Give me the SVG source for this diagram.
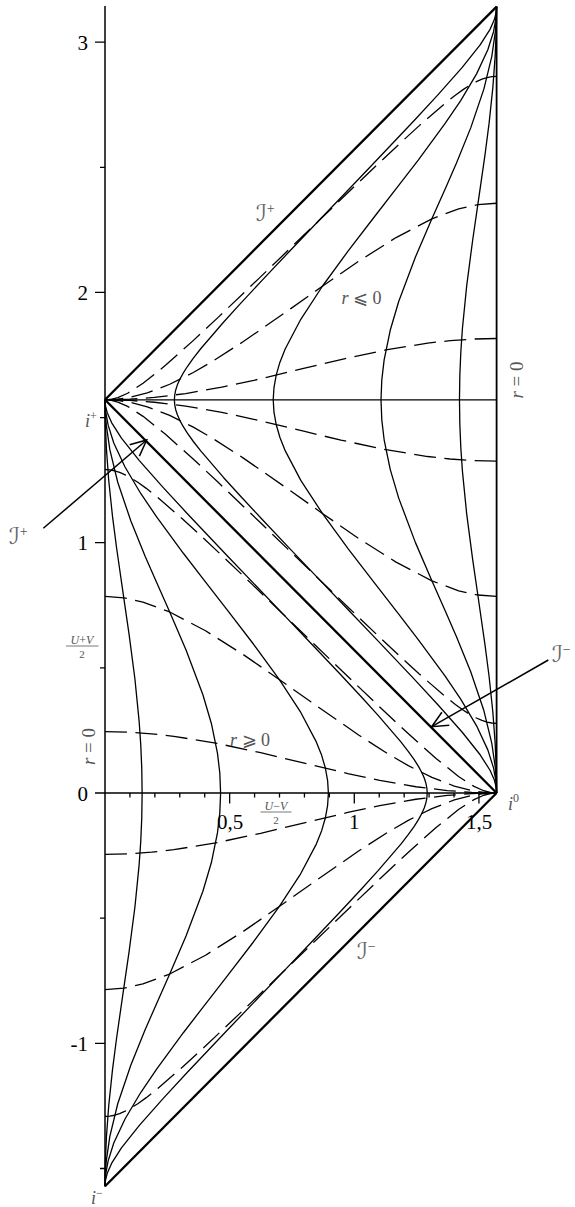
<svg xmlns="http://www.w3.org/2000/svg" width="575" height="1207" viewBox="0 0 575 1207">
<defs>
<style>
.s{fill:none;stroke:#000;stroke-width:0.52;stroke-linejoin:round}
.d{fill:none;stroke:#000;stroke-width:0.52;stroke-dasharray:8.8 3.4;stroke-linejoin:round}
.b{stroke:#000;stroke-width:2.3;fill:none}
.ax{stroke:#000;stroke-width:1.5;fill:none}
.tk{stroke:#000;stroke-width:1.3;fill:none}
.num{font-family:"Liberation Serif",serif;font-size:21px;fill:#000}
.lab{font-family:"Liberation Serif",serif;font-style:italic;fill:#555}
.up{font-family:"Liberation Serif","DejaVu Serif",serif;font-style:normal;fill:#555}
.scri{font-family:"DejaVu Serif","DejaVu Sans",serif;font-style:italic;fill:#666}
.ann{stroke:#000;stroke-width:1.5;fill:none}
</style>
<marker id="ah" markerUnits="userSpaceOnUse" markerWidth="24" markerHeight="24" viewBox="-20 -12 24 24" refX="0" refY="0" orient="auto">
<path d="M-16,-7.5 L0,0 L-16,7.5" fill="none" stroke="#000" stroke-width="1.5"/>
</marker>
<g id="quarter">
<path class="s" d="M14.89,0 L14.75,9.75 14.34,19.33 13.70,28.59 11.99,45.65 9.62,63.66 7.53,77.98 4.64,97.97 3.01,110.54 1.50,124.84 0.58,137.32 0.15,147.11 0.04,152.08 0,157.08"/>
<path class="s" d="M46.37,0 L46.05,8.00 45.11,15.96 42.67,27.78 39.27,39.27 32.55,57.05 25.96,72.32 20.41,84.76 16.09,94.63 10.38,108.65 5.11,124.14 1.94,137.15 0.50,147.09 0.13,152.07 0,157.08"/>
<path class="s" d="M89.61,0 L89.30,4.90 88.41,9.87 86.91,15.05 84.76,20.41 78.54,32.18 69.88,45.38 59.52,59.52 48.85,73.35 39.27,85.64 31.43,95.78 20.71,110.31 14.40,119.57 8.03,130.23 3.52,139.85 1.26,146.96 0.31,152.07 0,157.08"/>
<path class="s" d="M129.25,0 L129.11,1.91 128.74,3.84 128.09,5.88 127.12,8.09 125.79,10.54 124.03,13.31 121.71,16.55 118.69,20.41 109.55,31.01 102.78,38.43 94.09,47.73 83.44,58.94 71.45,71.45 59.44,83.94 48.73,95.10 33.05,111.59 23.55,121.82 13.78,132.81 6.60,141.81 2.63,148.00 0.90,151.93 0.22,154.56 0,157.08"/>
<path class="d" d="M0,24.50 L9.39,24.28 18.65,23.64 27.64,22.65 44.42,19.93 62.45,16.09 76.98,12.63 97.39,7.78 110.21,5.05 124.71,2.50 137.29,0.96 147.11,0.25 152.08,0.06 157.08,0"/>
<path class="d" d="M0,78.54 L7.53,77.98 15.22,76.29 25.96,72.32 40.33,64.83 55.36,55.36 69.88,45.38 82.70,36.33 101.72,23.18 113.77,15.49 121.65,10.93 131.12,6.22 140.12,2.78 147.01,1.00 152.07,0.25 157.08,0"/>
<path class="d" d="M0,129.25 L1.91,129.11 3.84,128.74 5.88,128.09 8.09,127.12 10.54,125.79 13.31,124.03 16.55,121.71 20.41,118.69 31.01,109.55 38.43,102.78 47.73,94.09 58.94,83.44 71.45,71.45 83.94,59.44 95.10,48.73 111.59,33.05 121.82,23.55 132.81,13.78 141.81,6.60 148.00,2.63 151.93,0.90 154.56,0.22 157.08,0"/>
</g>
<g id="lower">
<use href="#quarter"/>
<use href="#quarter" transform="scale(1,-1)"/>
</g>
</defs>

<g id="curves" transform="translate(105,793) scale(2.493,-2.503)">
<use href="#lower"/>
<use href="#lower" transform="matrix(-1 0 0 1 157.08 157.08)"/>
</g>

<g id="boundary">
<line class="b" x1="105" y1="1186.2" x2="496.6" y2="793"/>
<line class="b" x1="105" y1="399.8" x2="496.6" y2="793"/>
<line class="b" x1="105" y1="399.8" x2="496.6" y2="6.6"/>
<line x1="105" y1="399.8" x2="496.6" y2="399.8" stroke="#000" stroke-width="1.3"/>
<line x1="496.6" y1="6.6" x2="496.6" y2="793" stroke="#000" stroke-width="1.8"/>
</g>

<g id="axes">
<line class="ax" x1="105" y1="6" x2="105" y2="1186.2"/>
<line class="ax" x1="95" y1="793" x2="496.6" y2="793"/>
<path class="tk" d="M95,1043.3H105M95,542.7H105M95,292.4H105M95,42.1H105M100,1168.5H105M100,918.2H105M100,667.9H105M100,417.6H105M100,167.3H105"/>
<path class="tk" d="M129.93,793V797.5M154.86,793V797.5M179.79,793V797.5M204.72,793V797.5M254.58,793V797.5M279.51,793V797.5M304.44,793V797.5M329.37,793V797.5M379.23,793V797.5M404.16,793V797.5M429.09,793V797.5M454.02,793V797.5M229.65,793V803.5M354.3,793V803.5M478.95,793V803.5"/>
<text class="num" x="88" y="49.6" text-anchor="end">3</text>
<text class="num" x="88" y="300" text-anchor="end">2</text>
<text class="num" x="88" y="550.2" text-anchor="end">1</text>
<text class="num" x="88" y="800.5" text-anchor="end">0</text>
<text class="num" x="88" y="1050.8" text-anchor="end">-1</text>
<text class="num" x="230" y="829" text-anchor="middle">0,5</text>
<text class="num" x="354.3" y="829" text-anchor="middle">1</text>
<text class="num" x="479" y="829" text-anchor="middle">1,5</text>
<text class="lab" x="276" y="809.5" font-size="12" text-anchor="middle">U<tspan class="up">−</tspan>V</text>
<line x1="260.5" y1="812" x2="291.5" y2="812" stroke="#555" stroke-width="0.8"/>
<text class="up" x="276" y="823.5" font-size="11" text-anchor="middle">2</text>
<text class="lab" x="82" y="643.5" font-size="12" text-anchor="middle">U<tspan class="up">+</tspan>V</text>
<line x1="66" y1="646" x2="98.5" y2="646" stroke="#555" stroke-width="0.8"/>
<text class="up" x="82" y="658" font-size="11" text-anchor="middle">2</text>
</g>

<g id="labels">
<text class="lab" font-size="19" text-anchor="middle" transform="translate(95,746.5) rotate(-90)">r<tspan class="up"> = 0</tspan></text>
<text class="lab" font-size="19" text-anchor="middle" transform="translate(523,380) rotate(-90)">r<tspan class="up"> = 0</tspan></text>
<text class="lab" font-size="18" x="361.5" y="304" text-anchor="middle">r<tspan class="up"> ⩽ 0</tspan></text>
<text class="lab" font-size="18" x="250" y="746" text-anchor="middle">r<tspan class="up"> ⩾ 0</tspan></text>
<text class="lab" font-size="18" x="85" y="427">i<tspan class="up" font-size="12" dy="-7">+</tspan></text>
<text class="lab" font-size="18" x="508" y="810">i<tspan class="up" font-size="12" dy="-8">0</tspan></text>
<text class="lab" font-size="18" x="91" y="1204">i<tspan class="up" font-size="12" dy="-7">−</tspan></text>
<text class="scri" font-size="23" x="256" y="221">ℐ<tspan class="up" font-size="14" dy="-8">+</tspan></text>
<text class="scri" font-size="23" x="9" y="544">ℐ<tspan class="up" font-size="14" dy="-8">+</tspan></text>
<text class="scri" font-size="23" x="357" y="959">ℐ<tspan class="up" font-size="14" dy="-8">−</tspan></text>
<text class="scri" font-size="23" x="552" y="662">ℐ<tspan class="up" font-size="14" dy="-8">−</tspan></text>
</g>

<g id="arrows">
<line class="ann" x1="43.3" y1="528.3" x2="146.7" y2="440" marker-end="url(#ah)"/>
<line class="ann" x1="548.3" y1="660" x2="431.7" y2="726.7" marker-end="url(#ah)"/>
</g>
</svg>
